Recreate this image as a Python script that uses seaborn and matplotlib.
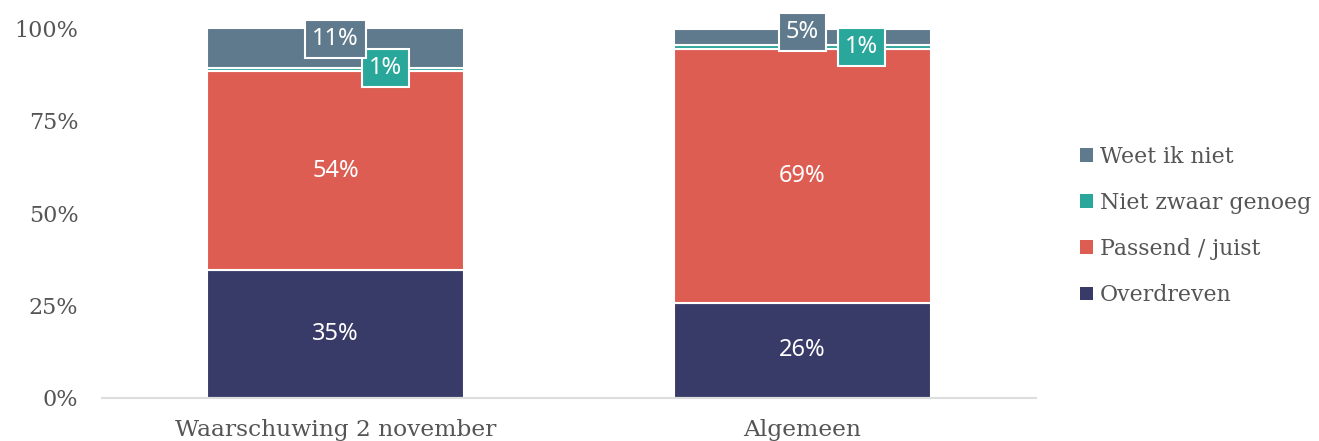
import matplotlib
matplotlib.use("Agg")
import matplotlib.pyplot as plt
import seaborn as sns
import numpy as np
import pandas as pd
from matplotlib.patches import Patch

# ---- data ----
categories = ["Waarschuwing 2 november", "Algemeen"]
series_names = ["Overdreven", "Passend / juist", "Niet zwaar genoeg", "Weet ik niet"]
overdreven = [34.6, 25.8]
passend = [53.8, 68.6]
niet_zwaar = [0.9, 1.0]
weet_niet = [10.7, 4.6]
y_ticks = [0, 25, 50, 75, 100]
y_tick_labels = ["0%", "25%", "50%", "75%", "100%"]

# ---- style ----
colors = {"Overdreven": "#383b67", "Passend / juist": "#dd5d52",
          "Niet zwaar genoeg": "#2aa79b", "Weet ik niet": "#5f7a8d"}
text_gray = "#555555"
serif = ["DejaVu Serif"]
sansl = ["Noto Sans", "DejaVu Sans"]

sns.set_theme(style="white")
plt.rcParams["font.family"] = serif

fig = plt.figure(figsize=(13.19, 4.41), dpi=100)
ax = fig.add_axes([102 / 1319, 1 - 398 / 441, (1036 - 102) / 1319, (398 - 28.5) / 441])

series_values = [overdreven, passend, niet_zwaar, weet_niet]
bottoms = np.zeros(len(categories))
segments = []
for name, vals in zip(series_names, series_values):
    df = pd.DataFrame({"cat": categories, "val": vals})
    sns.barplot(data=df, x="cat", y="val", bottom=bottoms, color=colors[name],
                saturation=1, width=0.55, edgecolor="white", linewidth=1.5, ax=ax,
                errorbar=None)
    segments.append((name, np.array(vals), bottoms.copy()))
    bottoms = bottoms + np.array(vals)

# labels inside big segments
for name, vals, bots in segments:
    for i, (v, b) in enumerate(zip(vals, bots)):
        center = b + v / 2
        label = f"{round(v):.0f}%"
        if name in ("Overdreven", "Passend / juist"):
            ax.text(i, center, label, ha="center", va="center", color="white",
                    fontsize=17, family=sansl)

# boxed labels for small segments (offsets in pixels)
box_offsets = {"Weet ik niet": [(0, 9), (0, 5)],
               "Niet zwaar genoeg": [(50, 2), (59, 0)]}
for name, vals, bots in segments:
    if name in box_offsets:
        for i, (v, b) in enumerate(zip(vals, bots)):
            center = b + v / 2
            dx, dy = box_offsets[name][i]
            ax.annotate(f"{round(v):.0f}%", xy=(i, center), xytext=(dx, dy),
                        textcoords="offset pixels", ha="center", va="center",
                        color="white", fontsize=17, family=sansl,
                        bbox=dict(boxstyle="square,pad=0.3", facecolor=colors[name],
                                  edgecolor="white", linewidth=1.5))

ax.set_xlim(-0.5, 1.5)
ax.set_ylim(0, 100)
ax.set_yticks(y_ticks)
ax.set_yticklabels(y_tick_labels)
ax.set_xlabel("")
ax.set_ylabel("")
for s in ["left", "right", "top"]:
    ax.spines[s].set_visible(False)
ax.spines["bottom"].set_color("#dddddd")
ax.spines["bottom"].set_linewidth(1.5)
ax.tick_params(axis="y", length=0, pad=17, labelsize=16, labelcolor=text_gray)
ax.tick_params(axis="x", length=0, pad=15, labelsize=16.8, labelcolor=text_gray)
ax.grid(False)

handles = [Patch(facecolor=colors[n], edgecolor="none") for n in reversed(series_names)]
leg = fig.legend(handles, list(reversed(series_names)), loc="center left",
                 bbox_to_anchor=(1080 / 1319, 1 - 226 / 441), frameon=False,
                 fontsize=15.8, handlelength=0.6, handleheight=0.6,
                 handletextpad=0.3, labelspacing=1.1, borderpad=0,
                 borderaxespad=0)
for t in leg.get_texts():
    t.set_color(text_gray)

fig.savefig("out.png", dpi=100)
